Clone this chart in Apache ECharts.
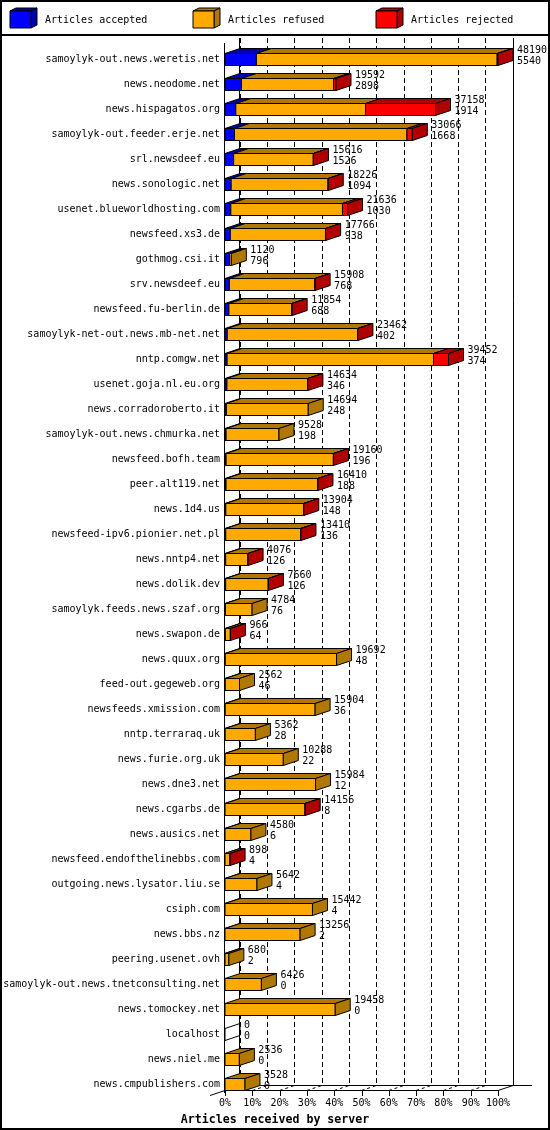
<!DOCTYPE html>
<html>
<head>
<meta charset="utf-8">
<script src="https://cdn.jsdelivr.net/npm/echarts@6/dist/echarts.min.js"></script>
<style>
html,body{margin:0;padding:0;background:#fff;}
#chart{width:550px;height:1130px;}
</style>
</head>
<body>
<div id="chart"></div>
<script>
// ---- data ----
const hosts = [
  'samoylyk-out.news.weretis.net','news.neodome.net','news.hispagatos.org','samoylyk-out.feeder.erje.net',
  'srl.newsdeef.eu','news.sonologic.net','usenet.blueworldhosting.com','newsfeed.xs3.de','gothmog.csi.it',
  'srv.newsdeef.eu','newsfeed.fu-berlin.de','samoylyk-net-out.news.mb-net.net','nntp.comgw.net',
  'usenet.goja.nl.eu.org','news.corradoroberto.it','samoylyk-out.news.chmurka.net','newsfeed.bofh.team',
  'peer.alt119.net','news.1d4.us','newsfeed-ipv6.pionier.net.pl','news.nntp4.net','news.dolik.dev',
  'samoylyk.feeds.news.szaf.org','news.swapon.de','news.quux.org','feed-out.gegeweb.org',
  'newsfeeds.xmission.com','nntp.terraraq.uk','news.furie.org.uk','news.dne3.net','news.cgarbs.de',
  'news.ausics.net','newsfeed.endofthelinebbs.com','outgoing.news.lysator.liu.se','csiph.com',
  'news.bbs.nz','peering.usenet.ovh','samoylyk-out.news.tnetconsulting.net','news.tomockey.net',
  'localhost','news.niel.me','news.cmpublishers.com'
];
const offered = [48190,19592,37158,33066,15616,18226,21636,17766,1120,15908,11854,23462,39452,
  14634,14694,9528,19160,16410,13904,13410,4076,7660,4784,966,19692,2562,15904,5362,10288,15984,
  14156,4580,898,5642,15442,13256,680,6426,19458,0,2536,3528];
const accepted = [5540,2898,1914,1668,1526,1094,1030,938,796,768,688,402,374,346,248,198,196,188,
  148,136,126,126,76,64,48,46,36,28,22,12,8,6,4,4,4,2,2,0,0,0,0,0];
const rejected = [150,410,12350,940,30,30,900,30,0,30,30,30,2650,30,0,0,30,30,30,30,20,20,0,20,
  0,0,0,0,0,0,20,0,20,0,0,0,0,0,0,0,0,0];
const seriesNames = ['Articles accepted','Articles refused','Articles rejected'];
const xTickValues = [0,10,20,30,40,50,60,70,80,90,100];
const axisTitle = 'Articles received by server';

// ---- style / layout ----
const FRONT = ['#0000ff','#ffaa00','#ff0000'];
const DARK  = ['#0000b0','#b07800','#b00000'];
const FONT = '"DejaVu Sans Mono", "Liberation Mono", monospace';
const DX = 15, DY = 5, BAR_H = 12;
const G_LEFT = 225, G_W = 273, G_TOP = 47, G_H = 1050;
const FLOOR_Y = 1090, WALL_TOP = 38;

const maxTotal = Math.max.apply(null, offered);
const pct = v => v / maxTotal * 100;
const items = hosts.map((h, i) => {
  const refused = offered[i] - accepted[i] - rejected[i];
  return [i, pct(accepted[i]), pct(refused), pct(rejected[i]), offered[i], accepted[i]];
});

function renderItem(params, api) {
  const idx = api.value(0);
  const a = api.value(1), r = api.value(2), j = api.value(3);
  const cum = [0, a, a + r, a + r + j];
  const yc = api.coord([0, idx])[1];
  const xs = cum.map(v => api.coord([v, idx])[0]);
  const top = yc - BAR_H / 2, bot = yc + BAR_H / 2;
  const children = [];
  let last = -1;
  for (let s = 0; s < 3; s++) {
    if (cum[s + 1] - cum[s] <= 0) continue;
    last = s;
    children.push({
      type: 'polygon',
      shape: { points: [[xs[s], top], [xs[s + 1], top], [xs[s + 1] + DX, top - DY], [xs[s] + DX, top - DY]] },
      style: { fill: DARK[s], stroke: '#000', lineWidth: 1 }
    });
    children.push({
      type: 'rect',
      shape: { x: xs[s], y: top, width: xs[s + 1] - xs[s], height: BAR_H },
      style: { fill: FRONT[s], stroke: '#000', lineWidth: 1 }
    });
  }
  const xe = xs[3];
  children.push({
    type: 'polygon',
    shape: { points: [[xe, top], [xe + DX, top - DY], [xe + DX, bot - DY], [xe, bot]] },
    style: { fill: last >= 0 ? DARK[last] : 'rgba(0,0,0,0)', stroke: '#000', lineWidth: 1 }
  });
  children.push({
    type: 'text',
    style: {
      text: api.value(4) + '\n' + api.value(5),
      x: xe + DX + 4, y: top - 9,
      fill: '#000', font: '10px ' + FONT, lineHeight: 11,
      verticalAlign: 'top', align: 'left'
    }
  });
  return { type: 'group', children: children };
}

// ---- frame / legend decorations ----
const graphics = [];
const line = (x1, y1, x2, y2, extra) => Object.assign({
  type: 'line', z: 1, silent: true,
  shape: { x1: x1, y1: y1, x2: x2, y2: y2 },
  style: { stroke: '#000', lineWidth: 1 }
}, extra || {});
graphics.push(line(G_LEFT + DX - 0.5, WALL_TOP, G_LEFT + DX - 0.5, FLOOR_Y - DY));
graphics.push(line(G_LEFT + G_W + DX + 0.5, WALL_TOP, G_LEFT + G_W + DX + 0.5, FLOOR_Y - DY));
graphics.push(line(G_LEFT - 0.5, WALL_TOP + DY, G_LEFT - 0.5, FLOOR_Y + 3));
graphics.push(line(G_LEFT, FLOOR_Y + 0.5, G_LEFT + G_W, FLOOR_Y + 0.5));
graphics.push(line(G_LEFT + G_W, FLOOR_Y + 0.5, G_LEFT + G_W + DX, FLOOR_Y - DY + 0.5));
graphics.push(line(G_LEFT + DX, FLOOR_Y - DY + 0.5, G_LEFT + G_W + DX + 19, FLOOR_Y - DY + 0.5));
graphics.push(line(G_LEFT - 15, FLOOR_Y + 5.5, G_LEFT + DX, FLOOR_Y - DY + 0.5));
xTickValues.forEach(t => {
  const x = G_LEFT + G_W * t / 100;
  graphics.push(line(Math.round(x) + 0.5, FLOOR_Y, Math.round(x) + 0.5, FLOOR_Y + 6));
  if (t > 0 && t < 100) {
    graphics.push(line(x, FLOOR_Y + 0.5, x + DX, FLOOR_Y - DY + 0.5, { style: { stroke: '#000', lineWidth: 1, lineDash: [3, 3] } }));
  }
});
// outer border and legend separator
graphics.push({ type: 'rect', z: 30, silent: true, shape: { x: 1, y: 1, width: 548, height: 1128 }, style: { fill: 'none', stroke: '#000', lineWidth: 2 } });
graphics.push(line(0, 35, 550, 35, { z: 30, style: { stroke: '#000', lineWidth: 2 } }));
// legend
const legendX = [10, 193, 376];
seriesNames.forEach((name, i) => {
  const x0 = legendX[i], y0 = 11, w = 21, h = 17, dx = 6, dy = 3;
  graphics.push({ type: 'polygon', z: 30, shape: { points: [[x0, y0], [x0 + w, y0], [x0 + w + dx, y0 - dy], [x0 + dx, y0 - dy]] }, style: { fill: DARK[i], stroke: '#000', lineWidth: 1 } });
  graphics.push({ type: 'polygon', z: 30, shape: { points: [[x0 + w, y0], [x0 + w + dx, y0 - dy], [x0 + w + dx, y0 + h - dy], [x0 + w, y0 + h]] }, style: { fill: DARK[i], stroke: '#000', lineWidth: 1 } });
  graphics.push({ type: 'rect', z: 30, shape: { x: x0, y: y0, width: w, height: h }, style: { fill: FRONT[i], stroke: '#000', lineWidth: 1 } });
  graphics.push({ type: 'text', z: 30, style: { text: name, x: x0 + 35, y: 20, font: '10px ' + FONT, fill: '#000', verticalAlign: 'middle' } });
});

const chart = echarts.init(document.getElementById('chart'), null, { renderer: 'canvas' });
chart.setOption({
  animation: false,
  backgroundColor: '#ffffff',
  title: {
    text: axisTitle, left: 'center', top: 1109,
    textStyle: { fontFamily: FONT, fontWeight: 'bold', fontSize: 11.6, color: '#000' }
  },
  grid: [
    { left: G_LEFT, top: G_TOP, width: G_W, height: G_H },
    { left: G_LEFT + DX, top: WALL_TOP, width: G_W, height: FLOOR_Y - DY - WALL_TOP }
  ],
  xAxis: [
    {
      type: 'value', gridIndex: 0, min: 0, max: 100, interval: 10,
      axisLine: { show: false }, axisTick: { show: false }, splitLine: { show: false },
      axisLabel: { formatter: '{value}%', fontFamily: FONT, fontSize: 10, color: '#000', margin: 1 }
    },
    {
      type: 'value', gridIndex: 1, min: 0, max: 100, interval: 10,
      axisLine: { show: false }, axisTick: { show: false }, axisLabel: { show: false },
      splitLine: { show: true, lineStyle: { color: '#000', width: 1, type: [5, 3] } }
    }
  ],
  yAxis: [
    {
      type: 'category', gridIndex: 0, data: hosts, inverse: true,
      axisLine: { show: false }, axisTick: { show: false },
      axisLabel: { fontFamily: FONT, fontSize: 10, color: '#000', margin: 5, interval: 0 }
    },
    { type: 'value', gridIndex: 1, min: 0, max: 1, show: false }
  ],
  graphic: { elements: graphics },
  series: [{
    type: 'custom', name: 'articles', z: 5, clip: false,
    xAxisIndex: 0, yAxisIndex: 0,
    renderItem: renderItem,
    encode: { x: [1, 2, 3], y: 0 },
    data: items
  }]
});
</script>
</body>
</html>
